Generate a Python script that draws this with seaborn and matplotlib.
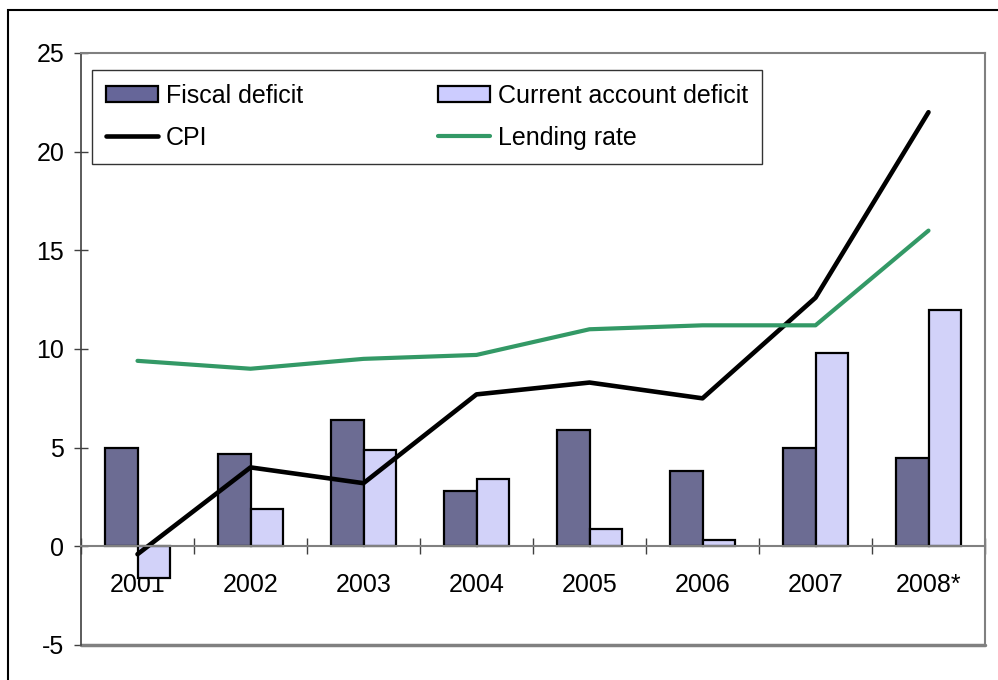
import numpy as np
import pandas as pd
import matplotlib
matplotlib.use("Agg")
import matplotlib.pyplot as plt
from matplotlib.patches import Rectangle, Patch
from matplotlib.lines import Line2D
import seaborn as sns

# Dados
anos = ["2001", "2002", "2003", "2004", "2005", "2006", "2007", "2008*"]
deficit_fiscal = [5.0, 4.7, 6.4, 2.8, 5.9, 3.8, 5.0, 4.5]
deficit_conta_corrente = [-1.6, 1.9, 4.9, 3.4, 0.9, 0.3, 9.8, 12.0]
ipc = [-0.4, 4.0, 3.2, 7.7, 8.3, 7.5, 12.6, 22.0]
taxa_emprestimo = [9.4, 9.0, 9.5, 9.7, 11.0, 11.2, 11.2, 16.0]

series_barras = ["Fiscal deficit", "Current account deficit"]
cores_barras = ["#666699", "#CCCCFF"]
cor_ipc = "#000000"
cor_taxa = "#339966"

sns.set_theme(style="white")
plt.rcParams["font.family"] = ["Liberation Sans", "DejaVu Sans"]
plt.rcParams["axes.unicode_minus"] = False
plt.rcParams["text.color"] = "black"

df_barras = pd.DataFrame({
    "ano": anos * 2,
    "serie": [series_barras[0]] * len(anos) + [series_barras[1]] * len(anos),
    "valor": deficit_fiscal + deficit_conta_corrente,
})
df_linhas = pd.DataFrame({"pos": np.arange(len(anos)), "ipc": ipc, "taxa": taxa_emprestimo})

fig = plt.figure(figsize=(9.98, 6.8), dpi=100)
ax = fig.add_axes([81 / 998, 35 / 680, 904 / 998, 592 / 680])

sns.barplot(data=df_barras, x="ano", y="valor", hue="serie", order=anos,
            hue_order=series_barras, palette=cores_barras, width=0.58, gap=0,
            edgecolor="black", linewidth=1.6, ax=ax, legend=False)
sns.lineplot(data=df_linhas, x="pos", y="ipc", color=cor_ipc, linewidth=3.3, ax=ax)
sns.lineplot(data=df_linhas, x="pos", y="taxa", color=cor_taxa, linewidth=3, ax=ax)

ax.set_xlim(-0.5, len(anos) - 0.5)
ax.set_ylim(-5, 25)
ax.set_xlabel("")
ax.set_ylabel("")
ax.set_axisbelow(True)

# Eixos
for lado in ["top", "right"]:
    ax.spines[lado].set_color("#808080")
    ax.spines[lado].set_linewidth(1.5)
ax.spines["left"].set_color("#404040")
ax.spines["left"].set_linewidth(1.2)
ax.spines["bottom"].set_position(("data", 0))
ax.spines["bottom"].set_color("#808080")
ax.spines["bottom"].set_linewidth(1.5)
ax.axhline(-5, color="#808080", linewidth=2.5, clip_on=False)

ax.set_yticks([-5, 0, 5, 10, 15, 20, 25])
ax.tick_params(axis="y", which="major", direction="inout", length=10, width=1,
               color="#404040", pad=7, labelsize=18, labelcolor="black", left=True)

ax.set_xticks(np.arange(-0.5, len(anos)), labels=[""] * (len(anos) + 1))
ax.set_xticks(np.arange(len(anos)), labels=anos, minor=True)
ax.tick_params(axis="x", which="major", direction="inout", length=12, width=1,
               color="#404040", bottom=True)
ax.tick_params(axis="x", which="minor", length=0, pad=19, labelsize=18,
               labelcolor="black", bottom=True)

# Legenda
handles = [
    Patch(facecolor=cores_barras[0], edgecolor="black", linewidth=1.6),
    Line2D([], [], color=cor_ipc, linewidth=3.3),
    Patch(facecolor=cores_barras[1], edgecolor="black", linewidth=1.6),
    Line2D([], [], color=cor_taxa, linewidth=3),
]
labels = ["Fiscal deficit", "CPI", "Current account deficit", "Lending rate"]
leg = ax.legend(handles, labels, ncol=2, loc="upper left",
                bbox_to_anchor=(92 / 998, 1 - 70 / 680), bbox_transform=fig.transFigure,
                fontsize=18, frameon=True, fancybox=False, handlelength=2.1,
                handleheight=0.6, handletextpad=0.3, columnspacing=5.4,
                labelspacing=0.72, borderpad=0.55, borderaxespad=0,
                labelcolor="black")
leg.get_frame().set_edgecolor("black")
leg.get_frame().set_linewidth(1.0)

# Moldura externa
fig.patches.append(Rectangle((8 / 998, -0.1), 1.2, 1 - 10 / 680 + 0.1,
                             transform=fig.transFigure, fill=False,
                             edgecolor="black", linewidth=1.5))

fig.savefig("out.png", dpi=100)
